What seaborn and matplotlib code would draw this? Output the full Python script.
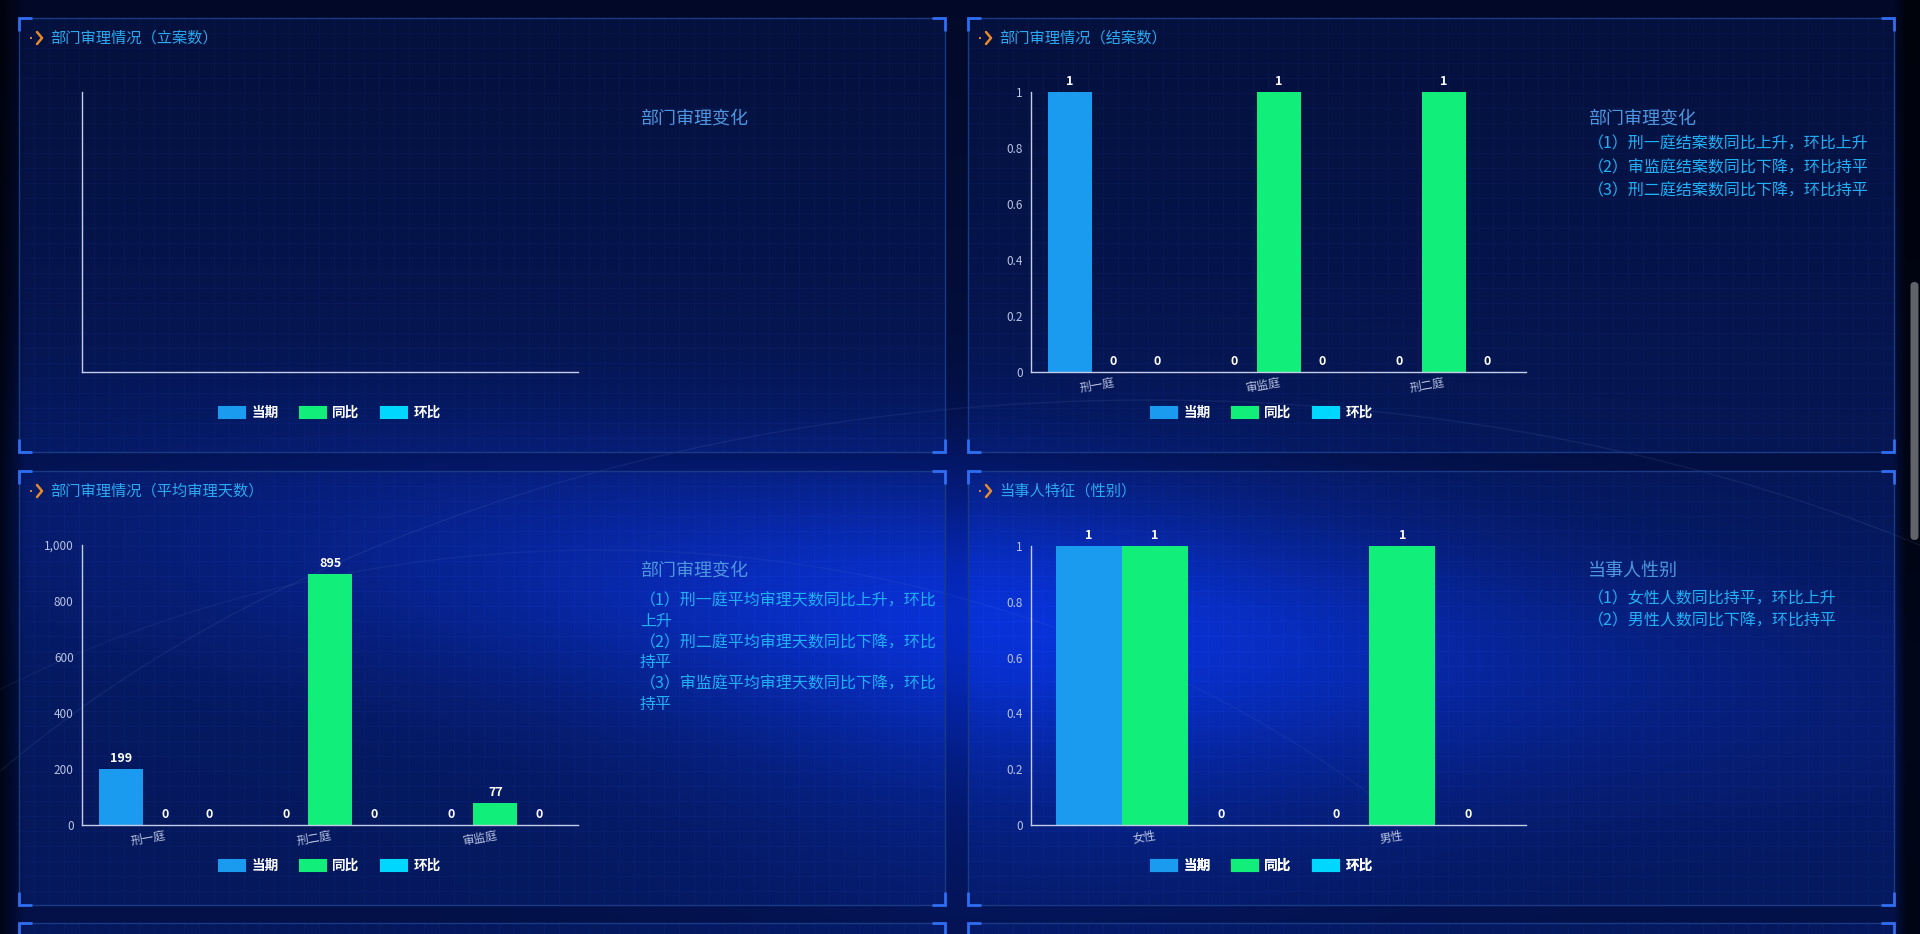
import numpy as np
import pandas as pd
import seaborn as sns
import matplotlib.pyplot as plt
from matplotlib.patches import Rectangle, FancyBboxPatch, Patch, Arc
from matplotlib.ticker import FuncFormatter

# legend series + colours
series = ['当期', '同比', '环比']
colors = ['#1a9bef', '#12ee7a', '#00d7ff']

# 部门审理情况（结案数）
close_cats = ['刑一庭', '审监庭', '刑二庭']
close_now = [1, 0, 0]
close_yoy = [0, 1, 1]
close_mom = [0, 0, 0]

# 部门审理情况（平均审理天数）
days_cats = ['刑一庭', '刑二庭', '审监庭']
days_now = [199, 0, 0]
days_yoy = [0, 895, 77]
days_mom = [0, 0, 0]

# 当事人特征（性别）
sex_cats = ['女性', '男性']
sex_now = [1, 0]
sex_yoy = [1, 1]
sex_mom = [0, 0]

titles = ['部门审理情况（立案数）', '部门审理情况（结案数）',
          '部门审理情况（平均审理天数）', '当事人特征（性别）']
note_heads = ['部门审理变化', '部门审理变化', '部门审理变化', '当事人性别']
notes_close = ['（1）刑一庭结案数同比上升，环比上升',
               '（2）审监庭结案数同比下降，环比持平',
               '（3）刑二庭结案数同比下降，环比持平']
notes_days = ['（1）刑一庭平均审理天数同比上升，环比', '上升',
              '（2）刑二庭平均审理天数同比下降，环比', '持平',
              '（3）审监庭平均审理天数同比下降，环比', '持平']
notes_sex = ['（1）女性人数同比持平，环比上升',
             '（2）男性人数同比下降，环比持平']

W, H = 1920, 934

sns.set_style('ticks')
plt.rcParams['font.family'] = ['Noto Sans CJK SC', 'DejaVu Sans']


def long_df(cats, now, yoy, mom):
    rows = []
    for s, vals in zip(series, [now, yoy, mom]):
        for c, v in zip(cats, vals):
            rows.append((c, s, v))
    return pd.DataFrame(rows, columns=['cat', 'series', 'value'])


panels = [(19, 18, 945, 452), (968, 18, 1894, 452),
          (19, 471, 945, 905), (968, 471, 1894, 905),
          (19, 923, 945, 1000), (968, 923, 1894, 1000)]

# background picture
yy, xx = np.mgrid[0:H, 0:W].astype(float)
top = np.array([2, 9, 40]) / 255
mid = np.array([3, 17, 72]) / 255
t = np.clip(yy / H * 1.5, 0, 1)[..., None]
img = top + (mid - top) * t
# lit edge of the globe, a soft band falling to the right
band = np.exp(-((yy - (600 + 0.1 * (xx - 900))) ** 2) / (2 * 95 ** 2)) * np.exp(-((xx - 950) ** 2) / (2 * 540 ** 2))
img = img + band[..., None] * np.array([0.012, 0.07, 0.34])
g1 = np.exp(-((xx - 1050) ** 2 / (2 * 260 ** 2) + (yy - 700) ** 2 / (2 * 150 ** 2)))
img = img + g1[..., None] * np.array([0.0, 0.035, 0.17])
for x0, y0, x1, y1 in panels:
    m = (xx > x0) & (xx < x1) & (yy > y0) & (yy < y1)
    grid = m & (((xx - x0) % 15 < 1) | ((yy - y0) % 15 < 1))
    img[m] += np.array([0.01, 0.03, 0.08])
    img[grid] += np.array([0.008, 0.016, 0.04])
edge = 0.3 + 0.7 * np.clip(xx / 25, 0, 1) * np.clip((1905 - xx) / 12, 0, 1)
img = np.clip(img * edge[..., None], 0, 1)

fig = plt.figure(figsize=(19.2, 9.34), dpi=100)
bg = fig.add_axes([0, 0, 1, 1])
bg.imshow(img, extent=(0, W, H, 0), aspect='auto', zorder=0)
bg.set_xlim(0, W)
bg.set_ylim(H, 0)
bg.axis('off')

# faint globe arcs
bg.add_patch(Arc((1150, 1350), 2900, 1900, theta1=195, theta2=345, color='#7d98dc', alpha=0.10, lw=1.0, zorder=1))
bg.add_patch(Arc((600, 1500), 2300, 1900, theta1=200, theta2=320, color='#7d98dc', alpha=0.08, lw=1.0, zorder=1))

for x0, y0, x1, y1 in panels:
    bg.add_patch(Rectangle((x0, y0), x1 - x0, y1 - y0, fill=False, ec='#1b3a86', lw=1, zorder=2))
    L = 13
    for cx, cy, dx, dy in [(x0, y0, 1, 1), (x1, y0, -1, 1), (x0, y1, 1, -1), (x1, y1, -1, -1)]:
        bg.plot([cx + dx * L, cx, cx], [cy, cy, cy + dy * L], color='#2f6ef2', lw=2, zorder=3,
                solid_capstyle='butt', solid_joinstyle='miter')

# panel titles with little orange arrow
for (x0, y0, x1, y1), title in zip(panels[:4], titles):
    ty = y0 + 20
    bg.plot([x0 + 18, x0 + 23, x0 + 18], [ty - 6, ty, ty + 6], color='#e8892c', lw=1.8, zorder=4)
    bg.plot([x0 + 11, x0 + 15], [ty, ty], color='#e8892c', lw=1.4, ls=(0, (1, 1.5)), zorder=4)
    bg.text(x0 + 31, ty, title, color='#2aa8f0', fontsize=11, va='center', ha='left', zorder=4)

# scrollbar
bg.add_patch(FancyBboxPatch((1910.5, 282), 8, 258, boxstyle='round,pad=0,rounding_size=4',
                            fc='#606368', ec='none', zorder=5))


def add_ax(x0, y0, x1, y1):
    ax = fig.add_axes([x0 / W, 1 - y1 / H, (x1 - x0) / W, (y1 - y0) / H])
    ax.set_facecolor('none')
    for s in ['top', 'right']:
        ax.spines[s].set_visible(False)
    for s in ['left', 'bottom']:
        ax.spines[s].set_color('#c5cde8')
        ax.spines[s].set_linewidth(1)
    ax.tick_params(axis='both', length=0, colors='#b9c3e3', labelsize=8.5)
    ax.tick_params(axis='y', pad=6)
    ax.tick_params(axis='x', pad=3)
    return ax


def bar_chart(ax, cats, now, yoy, mom, ymax, step, fmt):
    df = long_df(cats, now, yoy, mom)
    sns.barplot(data=df, x='cat', y='value', hue='series', order=cats, hue_order=series,
                palette=colors, width=0.8, saturation=1, errorbar=None, legend=False,
                edgecolor='none', linewidth=0, ax=ax)
    for cont in ax.containers:
        ax.bar_label(cont, fmt='%g', padding=3, color='white', fontsize=9, fontweight='bold')
    ax.set_ylim(0, ymax)
    ax.set_yticks(np.arange(0, ymax + step / 2, step))
    ax.yaxis.set_major_formatter(FuncFormatter(fmt))
    ax.set_xlabel('')
    ax.set_ylabel('')
    plt.setp(ax.get_xticklabels(), rotation=10, ha='right', rotation_mode='anchor')


def add_legend(cx, cy):
    handles = [Patch(facecolor=c, edgecolor=c, linewidth=1.5, joinstyle='round') for c in colors]
    leg = bg.legend(handles, series, loc='center', bbox_to_anchor=(cx, cy), bbox_transform=bg.transData,
                    ncol=3, frameon=False, handlelength=1.9, handleheight=0.9, handletextpad=0.45,
                    columnspacing=1.6, prop={'size': 9.8, 'weight': 'bold'}, labelcolor='white')
    bg.add_artist(leg)


def add_notes(x, y_head, head, lines, ys):
    bg.text(x, y_head, head, color='#4f96e0', fontsize=13, va='center', ha='left', zorder=4)
    for line, y in zip(lines, ys):
        bg.text(x, y, line, color='#1fb0f5', fontsize=11.5, va='center', ha='left', zorder=4)


# chart 1: no data, only axis lines
ax1 = add_ax(82, 92, 578, 372)
ax1.set_xticks([])
ax1.set_yticks([])
add_legend(330, 413)
add_notes(640, 119, note_heads[0], [], [])

# chart 2
ax2 = add_ax(1031, 92, 1526, 372)
bar_chart(ax2, close_cats, close_now, close_yoy, close_mom, 1, 0.2, lambda v, p: f'{v:g}')
add_legend(1262, 413)
add_notes(1588, 119, note_heads[1], notes_close, [144, 168, 191])

# chart 3
ax3 = add_ax(82, 545, 578, 825)
bar_chart(ax3, days_cats, days_now, days_yoy, days_mom, 1000, 200, lambda v, p: f'{v:,.0f}')
add_legend(330, 866)
add_notes(640, 571, note_heads[2], notes_days, [601, 621, 643, 662, 684, 704])

# chart 4
ax4 = add_ax(1031, 546, 1526, 825)
bar_chart(ax4, sex_cats, sex_now, sex_yoy, sex_mom, 1, 0.2, lambda v, p: f'{v:g}')
add_legend(1262, 866)
add_notes(1588, 571, note_heads[3], notes_sex, [599, 621])

fig.savefig('out.png', dpi=100)
